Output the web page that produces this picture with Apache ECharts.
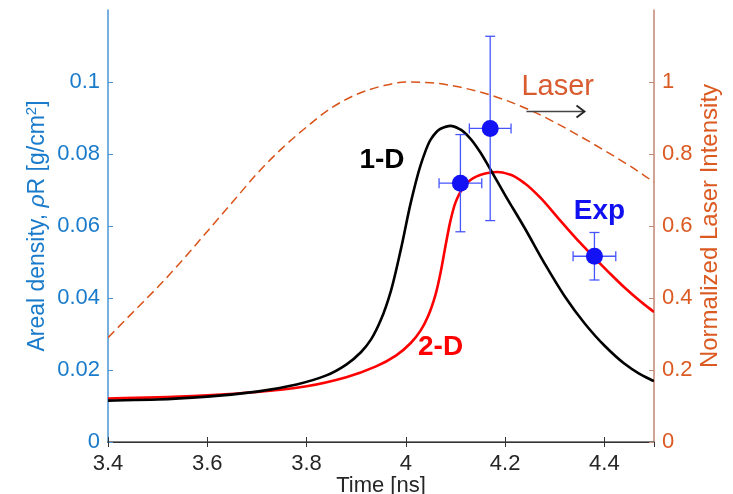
<!DOCTYPE html>
<html>
<head>
<meta charset="utf-8">
<script src="https://cdn.jsdelivr.net/npm/echarts@6/dist/echarts.min.js"></script>
<style>
  html, body { margin: 0; padding: 0; background: #fff; }
  #chart { width: 733px; height: 494px; }
</style>
</head>
<body>
<div id="chart"></div>
<script>
// time [ns], areal density [g/cm^2]
const oneD = [
    [3.40, 0.0115], [3.50, 0.0118], [3.60, 0.0126], [3.70, 0.0140], [3.78, 0.0160],
    [3.84, 0.0185], [3.88, 0.0215], [3.91, 0.0250], [3.93, 0.0285], [3.95, 0.0340],
    [3.97, 0.0420], [3.99, 0.0535], [4.01, 0.0665], [4.03, 0.0770], [4.05, 0.0840],
    [4.07, 0.0870], [4.09, 0.0878], [4.11, 0.0868], [4.13, 0.0843], [4.15, 0.0805],
    [4.17, 0.0758], [4.20, 0.0686], [4.24, 0.0593], [4.28, 0.0495], [4.32, 0.0405],
    [4.36, 0.0330], [4.40, 0.0268], [4.44, 0.0218], [4.47, 0.0190], [4.50, 0.0169]
];
const twoD = [
    [3.40, 0.0121], [3.50, 0.0124], [3.60, 0.0130], [3.70, 0.0139], [3.80, 0.0155],
    [3.88, 0.0180], [3.94, 0.0210], [3.98, 0.0240], [4.01, 0.0275], [4.03, 0.0310],
    [4.045, 0.0350], [4.06, 0.0410], [4.07, 0.0470], [4.08, 0.0545], [4.09, 0.0615],
    [4.10, 0.0665], [4.115, 0.0705], [4.135, 0.0732], [4.16, 0.0746], [4.185, 0.0750],
    [4.21, 0.0743], [4.24, 0.0718], [4.27, 0.0680], [4.31, 0.0617], [4.35, 0.0555],
    [4.38, 0.0512], [4.41, 0.0470], [4.44, 0.0430], [4.47, 0.0394], [4.50, 0.0361]
];
// time [ns], normalized laser intensity
const laser = [
    [3.40, 0.290], [3.45, 0.360], [3.50, 0.430], [3.55, 0.505], [3.60, 0.585],
    [3.65, 0.665], [3.70, 0.745], [3.75, 0.815], [3.80, 0.875], [3.85, 0.928],
    [3.90, 0.965], [3.95, 0.988], [4.00, 1.000], [4.05, 0.998], [4.10, 0.988],
    [4.15, 0.972], [4.20, 0.950], [4.25, 0.922], [4.30, 0.888], [4.35, 0.850],
    [4.40, 0.810], [4.45, 0.768], [4.50, 0.722]
];
// time, rhoR, time error, rhoR error
const expPoints = [
    [4.11, 0.0719, 0.043, 0.0135],
    [4.17, 0.0871, 0.042, 0.0256],
    [4.38, 0.0516, 0.043, 0.0066]
];
const xTicks = ['3.4', '3.6', '3.8', '4', '4.2', '4.4'];
const leftTicks = ['0', '0.02', '0.04', '0.06', '0.08', '0.1'];
const rightTicks = ['0', '0.2', '0.4', '0.6', '0.8', '1'];

// annotation anchors in data coords (x, laser-intensity units)
const notes = [
    { text: '1-D', at: [3.952, 0.782], color: '#000000', weight: 'bold', size: 28 },
    { text: '2-D', at: [4.07, 0.263], color: '#ff0000', weight: 'bold', size: 28 },
    { text: 'Exp', at: [4.39, 0.641], color: '#1010f0', weight: 'bold', size: 28 },
    { text: 'Laser', at: [4.306, 0.985], color: '#d95b30', weight: 'normal', size: 29 }
];
const arrowFrom = [4.243, 0.918];
const arrowTo = [4.36, 0.918];

const FONT = '"Liberation Sans", Arial, sans-serif';
const BLUE = '#1a7bcb';
const ORANGE = '#db5a22';
const TICK_FS = 22;
const NAME_FS = 23;

const chart = echarts.init(document.getElementById('chart'));

const tickFmt = (list) => (v) => {
    const s = String(+v.toFixed(2));
    return list.indexOf(s) >= 0 ? s : '';
};

// smooth monotone cubic through pixel points
function curvePath(p) {
    const n = p.length;
    const d = [], m = [];
    for (let i = 0; i < n - 1; i++) {
        d.push((p[i + 1][1] - p[i][1]) / (p[i + 1][0] - p[i][0]));
    }
    m[0] = d[0];
    m[n - 1] = d[n - 2];
    for (let i = 1; i < n - 1; i++) {
        if (d[i - 1] * d[i] <= 0) { m[i] = 0; continue; }
        const h0 = p[i][0] - p[i - 1][0], h1 = p[i + 1][0] - p[i][0];
        m[i] = 3 * (h0 + h1) / ((2 * h1 + h0) / d[i - 1] + (h1 + 2 * h0) / d[i]);
    }
    let s = 'M' + p[0][0] + ' ' + p[0][1];
    for (let i = 0; i < n - 1; i++) {
        const h = p[i + 1][0] - p[i][0];
        s += ' C' + (p[i][0] + h / 3) + ' ' + (p[i][1] + m[i] * h / 3) + ' ' +
            (p[i + 1][0] - h / 3) + ' ' + (p[i + 1][1] - m[i + 1] * h / 3) + ' ' +
            p[i + 1][0] + ' ' + p[i + 1][1];
    }
    return s;
}

function curveSeries(name, data, yAxisIndex, style, z) {
    return {
        name: name,
        type: 'custom',
        yAxisIndex: yAxisIndex,
        data: data,
        encode: { x: 0, y: 1 },
        clip: true,
        renderItem: (params, api) => {
            if (params.dataIndex !== 0) return null;
            const pts = data.map(d => api.coord(d));
            return {
                type: 'path',
                shape: { pathData: curvePath(pts) },
                style: Object.assign({ fill: null }, style)
            };
        },
        z: z
    };
}

const option = {
    animation: false,
    backgroundColor: '#ffffff',
    grid: { left: 108, right: 79, top: 10, bottom: 52, outerBoundsMode: 'none' },
    xAxis: [
        {
            type: 'value',
            min: 3.4,
            max: 4.5,
            interval: 0.2,
            name: 'Time [ns]',
            nameLocation: 'middle',
            nameGap: 33,
            nameMoveOverlap: false,
            nameTextStyle: { color: '#262626', fontSize: NAME_FS - 1, fontFamily: FONT },
            axisLine: { lineStyle: { color: '#555', width: 1.5 } },
            axisTick: { inside: true, length: 5, lineStyle: { color: '#333' } },
            axisLabel: { color: '#262626', fontSize: TICK_FS, fontFamily: FONT, margin: 11, formatter: tickFmt(xTicks), showMaxLabel: false },
            splitLine: { show: false }
        },
        {
            type: 'value',
            position: 'top',
            min: 3.4,
            max: 4.5,
            interval: 0.2,
            axisLine: { lineStyle: { color: '#333', width: 1 } },
            axisTick: { inside: true, length: 5, lineStyle: { color: '#333' } },
            axisLabel: { show: false },
            splitLine: { show: false }
        }
    ],
    yAxis: [
        {
            type: 'value',
            min: 0,
            max: 0.12,
            interval: 0.02,
            name: 'Areal density, {i|ρ}R [g/cm{sup|2}]',
            nameLocation: 'middle',
            nameRotate: 90,
            nameGap: 57,
            nameMoveOverlap: false,
            nameTextStyle: {
                color: BLUE, fontSize: NAME_FS, fontFamily: FONT,
                rich: {
                    i: { color: BLUE, fontSize: NAME_FS, fontFamily: FONT, fontStyle: 'italic' },
                    sup: { color: BLUE, fontSize: 15, fontFamily: FONT, verticalAlign: 'top', padding: [0, 0, 12, 0] }
                }
            },
            axisLine: { show: true, lineStyle: { color: '#4a94d4', width: 1.5 } },
            axisTick: { show: true, inside: true, length: 5, lineStyle: { color: '#4a94d4' } },
            axisLabel: { color: BLUE, fontSize: TICK_FS, fontFamily: FONT, margin: 8, formatter: tickFmt(leftTicks), showMaxLabel: false },
            splitLine: { show: false }
        },
        {
            type: 'value',
            position: 'right',
            min: 0,
            max: 1.2,
            interval: 0.2,
            name: 'Normalized Laser Intensity',
            nameLocation: 'middle',
            nameRotate: 90,
            nameGap: 44,
            nameMoveOverlap: false,
            nameTextStyle: { color: ORANGE, fontSize: NAME_FS + 1, fontFamily: FONT },
            axisLine: { show: true, lineStyle: { color: '#c48572', width: 1.5 } },
            axisTick: { show: true, inside: true, length: 5, lineStyle: { color: '#c48572' } },
            axisLabel: { color: ORANGE, fontSize: TICK_FS, fontFamily: FONT, margin: 8, formatter: tickFmt(rightTicks), showMaxLabel: false },
            splitLine: { show: false }
        }
    ],
    series: [
        curveSeries('Laser', laser, 1, { stroke: '#d95319', lineWidth: 1.5, lineDash: [9, 5] }, 1),
        curveSeries('2-D', twoD, 0, { stroke: '#ff0000', lineWidth: 2.6 }, 2),
        curveSeries('1-D', oneD, 0, { stroke: '#000000', lineWidth: 2.6 }, 3),
        {
            name: 'Exp error',
            type: 'custom',
            data: expPoints,
            encode: { x: 0, y: 1 },
            renderItem: (params, api) => {
                const t = api.value(0), v = api.value(1), dt = api.value(2), dv = api.value(3);
                const c = api.coord([t, v]);
                const top = api.coord([t, v + dv]);
                const bot = api.coord([t, v - dv]);
                const lft = api.coord([t - dt, v]);
                const rgt = api.coord([t + dt, v]);
                const style = { stroke: '#4655ff', lineWidth: 1.3 };
                const cap = 5;
                const seg = (x1, y1, x2, y2) => ({ type: 'line', shape: { x1, y1, x2, y2 }, style });
                return {
                    type: 'group',
                    children: [
                        seg(c[0], top[1], c[0], bot[1]),
                        seg(c[0] - cap, top[1], c[0] + cap, top[1]),
                        seg(c[0] - cap, bot[1], c[0] + cap, bot[1]),
                        seg(lft[0], c[1], rgt[0], c[1]),
                        seg(lft[0], c[1] - cap, lft[0], c[1] + cap),
                        seg(rgt[0], c[1] - cap, rgt[0], c[1] + cap)
                    ]
                };
            },
            z: 4
        },
        {
            name: 'Exp',
            type: 'scatter',
            data: expPoints.map(p => [p[0], p[1]]),
            symbol: 'circle',
            symbolSize: 17,
            itemStyle: { color: '#1212f5', opacity: 1 },
            z: 5
        }
    ]
};

chart.setOption(option);

// annotations placed from data coordinates
const toPx = (p) => chart.convertToPixel({ xAxisIndex: 0, yAxisIndex: 1 }, p);
const graphics = notes.map(n => {
    const p = toPx(n.at);
    return {
        type: 'text',
        x: p[0],
        y: p[1],
        style: {
            text: n.text,
            fill: n.color,
            font: n.weight + ' ' + n.size + 'px ' + FONT,
            textAlign: 'center',
            textVerticalAlign: 'middle'
        },
        z: 10
    };
});
const a0 = toPx(arrowFrom), a1 = toPx(arrowTo);
graphics.push({
    type: 'line',
    shape: { x1: a0[0], y1: a0[1], x2: a1[0], y2: a1[1] },
    style: { stroke: '#444', lineWidth: 1.5 },
    z: 10
});
graphics.push({
    type: 'polyline',
    shape: { points: [[a1[0] - 8, a1[1] - 6], [a1[0], a1[1]], [a1[0] - 8, a1[1] + 6]] },
    style: { stroke: '#222', lineWidth: 1.8, fill: null },
    z: 10
});
chart.setOption({ graphic: graphics });

window.addEventListener('resize', () => chart.resize());
</script>
</body>
</html>
